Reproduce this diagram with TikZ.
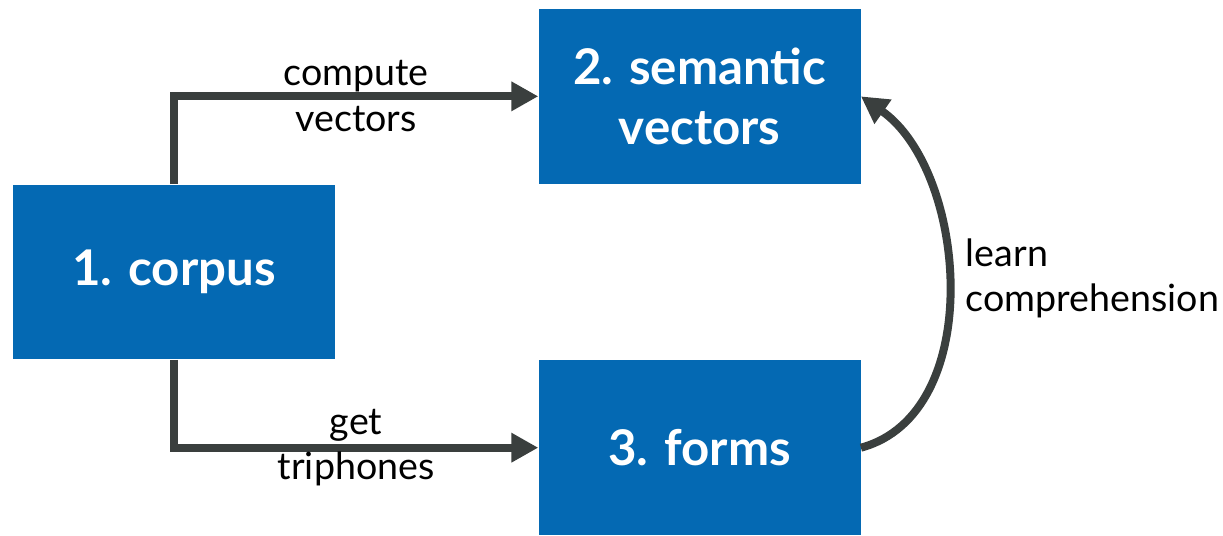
\documentclass[tikz,border=0pt]{standalone}
\usepackage{fontspec}
\setmainfont{Lato}
\usepackage{xcolor}
\usetikzlibrary{arrows.meta, positioning}

\definecolor{boxblue}{HTML}{0469B3}
\definecolor{edgegray}{HTML}{3A3F3E}

\begin{document}
\begin{tikzpicture}[
  x=0.02cm, y=-0.02cm,
  box/.style={fill=boxblue, text=white, minimum width=6.44cm, minimum height=3.5cm, align=center,
    font=\fontsize{28}{34}\selectfont\bfseries},
  edge/.style={-{Triangle[length=0.54cm, width=0.56cm]}, line width=0.16cm, draw=edgegray},
  lbl/.style={font=\fontsize{21.4}{26}\selectfont, text=black}
]
\useasboundingbox (0,0) rectangle (1223,535);

\node[box] (corpus) at (174,272) {1. corpus};
\node[box, above right=0cm and 4.06cm of corpus] (sem) {2. semantic\\vectors};
\node[box, below right=0cm and 4.06cm of corpus] (forms) {3. forms};

\draw[edge] (corpus.north) |- (sem.west)
  node[lbl, pos=0.75, align=center] {compute\\vectors};
\draw[edge] (corpus.south) |- (forms.west)
  node[lbl, pos=0.75, align=center] {get\\triphones};
\draw[edge] (forms.east) to[out=15, in=-35, looseness=0.95]
  node[lbl, pos=0.5, anchor=west, align=left, xshift=0.16cm, yshift=0.18cm] {learn\\comprehension} (sem.east);
\end{tikzpicture}
\end{document}
